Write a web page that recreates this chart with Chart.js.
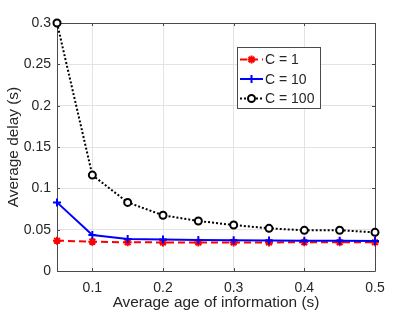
<!DOCTYPE html>
<html>
<head>
<meta charset="utf-8">
<script src="https://cdn.jsdelivr.net/npm/chart.js@4.4.1/dist/chart.umd.min.js"></script>
<style>
  body { margin: 0; background: #fff; }
  canvas { display: block; }
</style>
</head>
<body>
<canvas id="myChart" width="415" height="317"></canvas>
<script>
// average age of information (s)
const ages = [0.05, 0.1, 0.15, 0.2, 0.25, 0.3, 0.35, 0.4, 0.45, 0.5];
// average delay (s) for each C
const delayC1 = [0.0367, 0.0355, 0.0347, 0.0346, 0.0346, 0.0346, 0.0346, 0.0347, 0.0347, 0.0347];
const delayC10 = [0.083, 0.0435, 0.0387, 0.038, 0.0375, 0.0372, 0.0369, 0.0367, 0.0365, 0.0363];
const delayC100 = [0.3, 0.116, 0.083, 0.0674, 0.0605, 0.0556, 0.0516, 0.0492, 0.0493, 0.0468];
const seriesLabels = ['C = 1', 'C = 10', 'C = 100'];
const xTicks = [0.1, 0.2, 0.3, 0.4, 0.5];
const yTicks = [0, 0.05, 0.1, 0.15, 0.2, 0.25, 0.3];

const FONT = "'Liberation Sans', Arial, Helvetica, sans-serif";
const TXT = '#262626';
const GRID = '#e3e3e3';

function pts(ys) {
    return ages.map((x, i) => ({ x: x, y: ys[i] }));
}

// box, inward ticks and legend, drawn the matlab way
const matlabAxes = {
    id: 'matlabAxes',
    beforeDatasetsDraw(chart) {
        const ctx = chart.ctx;
        const a = chart.chartArea;
        const xs = chart.scales.x, ys = chart.scales.y;
        ctx.save();
        ctx.strokeStyle = '#4a4a4a';
        ctx.lineWidth = 1;
        ctx.beginPath();
        ctx.rect(Math.round(a.left) + 0.5, Math.round(a.top) + 0.5,
                 Math.round(a.right - a.left), Math.round(a.bottom - a.top));
        ctx.stroke();
        ctx.beginPath();
        xTicks.forEach(v => {
            const px = Math.round(xs.getPixelForValue(v)) + 0.5;
            ctx.moveTo(px, a.bottom); ctx.lineTo(px, a.bottom - 3);
            ctx.moveTo(px, a.top); ctx.lineTo(px, a.top + 3);
        });
        yTicks.forEach(v => {
            const py = Math.round(ys.getPixelForValue(v)) + 0.5;
            ctx.moveTo(a.left, py); ctx.lineTo(a.left + 3, py);
            ctx.moveTo(a.right, py); ctx.lineTo(a.right - 3, py);
        });
        ctx.stroke();
        ctx.restore();
    },
    afterDraw(chart) {
        const ctx = chart.ctx;
        const bx = 237, by = 47, bw = 83, bh = 61;
        ctx.save();
        ctx.fillStyle = '#fff';
        ctx.fillRect(bx, by, bw, bh);
        ctx.strokeStyle = '#4a4a4a';
        ctx.lineWidth = 1;
        ctx.strokeRect(bx + 0.5, by + 0.5, bw, bh);
        chart.data.datasets.forEach((ds, i) => {
            const y = by + 12.5 + i * 19.5;
            ctx.strokeStyle = ds.borderColor;
            ctx.lineWidth = ds.borderWidth;
            ctx.setLineDash(ds.borderDash || []);
            ctx.beginPath();
            ctx.moveTo(bx + 3, y);
            ctx.lineTo(bx + 26, y);
            ctx.stroke();
            ctx.setLineDash([]);
            ctx.fillStyle = ds.pointBackgroundColor;
            ctx.lineWidth = ds.pointBorderWidth;
            Chart.helpers.drawPoint(ctx, {
                pointStyle: ds.pointStyle,
                radius: ds.pointRadius,
                borderWidth: ds.pointBorderWidth,
                rotation: 0
            }, bx + 14.5, y);
            ctx.fillStyle = TXT;
            ctx.font = '14px ' + FONT;
            ctx.textBaseline = 'middle';
            ctx.textAlign = 'left';
            ctx.fillText(ds.label, bx + 28, y + 1);
        });
        ctx.restore();
    }
};

const ctx = document.getElementById('myChart').getContext('2d');
const chart = new Chart(ctx, {
    type: 'line',
    data: {
        datasets: [{
            label: seriesLabels[0],
            data: pts(delayC1),
            borderColor: '#ff0000',
            borderWidth: 2,
            borderDash: [7, 4],
            pointStyle: 'star',
            pointRadius: 4,
            pointBorderWidth: 2,
            pointBackgroundColor: '#ff0000',
            order: 2
        }, {
            label: seriesLabels[1],
            data: pts(delayC10),
            borderColor: '#0000ff',
            borderWidth: 2,
            pointStyle: 'cross',
            pointRadius: 4,
            pointBorderWidth: 2,
            pointBackgroundColor: '#0000ff',
            order: 1
        }, {
            label: seriesLabels[2],
            data: pts(delayC100),
            borderColor: '#000000',
            borderWidth: 2,
            borderDash: [2, 2],
            pointStyle: 'circle',
            pointRadius: 3.5,
            pointBorderWidth: 2,
            pointBackgroundColor: '#ffffff',
            order: 0
        }]
    },
    options: {
        responsive: false,
        animation: false,
        devicePixelRatio: 1,
        layout: { padding: { top: 23, right: 40, left: 0, bottom: 0 } },
        elements: { line: { tension: 0, fill: false } },
        plugins: {
            legend: { display: false },
            tooltip: { enabled: false }
        },
        datasets: { line: { clip: false } },
        scales: {
            x: {
                type: 'linear',
                min: 0.05,
                max: 0.5,
                afterBuildTicks: s => { s.ticks = xTicks.map(v => ({ value: v })); },
                afterFit: s => { s.height = 46; },
                ticks: {
                    font: { family: FONT, size: 14 },
                    color: TXT,
                    padding: 9,
                    maxRotation: 0,
                    callback: v => String(v)
                },
                grid: { color: GRID, drawTicks: false },
                border: { display: false },
                title: {
                    display: true,
                    text: 'Average age of information (s)',
                    font: { family: FONT, size: 15.4 },
                    color: TXT,
                    padding: { top: 0, bottom: 5 }
                }
            },
            y: {
                min: 0,
                max: 0.3,
                afterBuildTicks: s => { s.ticks = yTicks.map(v => ({ value: v })); },
                afterFit: s => { s.width = 57; },
                ticks: {
                    font: { family: FONT, size: 14 },
                    color: TXT,
                    padding: 6,
                    callback: v => String(v)
                },
                grid: { color: GRID, drawTicks: false },
                border: { display: false },
                title: {
                    display: true,
                    text: 'Average delay (s)',
                    font: { family: FONT, size: 15.4 },
                    color: TXT,
                    padding: { top: 5, bottom: 0 }
                }
            }
        }
    },
    plugins: [matlabAxes]
});
</script>
</body>
</html>
